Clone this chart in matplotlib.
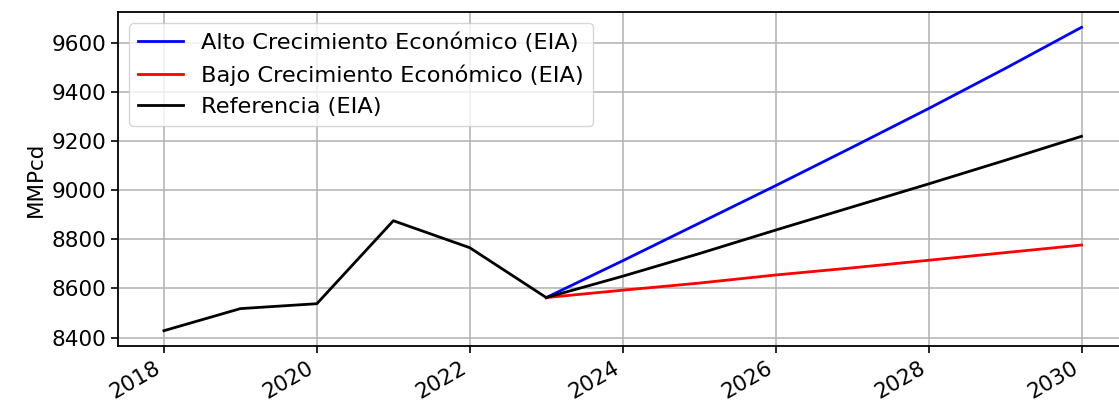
import matplotlib
matplotlib.use("Agg")
import matplotlib.pyplot as plt

# Historical production (MMPcd)
hist_years = [2018, 2019, 2020, 2021, 2022, 2023]
hist_values = [8428, 8518, 8538, 8876, 8766, 8563]

# EIA projections starting from the last historical year
proj_years = [2023, 2024, 2025, 2026, 2027, 2028, 2029, 2030]
alto = [8563, 8713, 8866, 9019, 9175, 9333, 9496, 9664]
bajo = [8563, 8593, 8622, 8655, 8684, 8715, 8746, 8777]
referencia = [8563, 8650, 8742, 8838, 8932, 9026, 9122, 9220]

plt.rcParams["font.size"] = 15.5
plt.rcParams["axes.linewidth"] = 1.3
plt.rcParams["xtick.major.width"] = 1.2
plt.rcParams["ytick.major.width"] = 1.2
plt.rcParams["xtick.major.size"] = 5
plt.rcParams["ytick.major.size"] = 5

fig = plt.figure(figsize=(11.19, 4.05), dpi=100)
ax = fig.add_axes([0.1055, 0.146, 0.902, 0.824])

ax.plot(proj_years, alto, color="blue", lw=2.0, label="Alto Crecimiento Económico (EIA)")
ax.plot(proj_years, bajo, color="red", lw=2.0, label="Bajo Crecimiento Económico (EIA)")
ax.plot(proj_years, referencia, color="black", lw=2.0, label="Referencia (EIA)")
ax.plot(hist_years, hist_values, color="black", lw=2.0)

ax.set_xticks([2018, 2020, 2022, 2024, 2026, 2028, 2030])
ax.set_yticks([8400, 8600, 8800, 9000, 9200, 9400, 9600])
ax.set_ylabel("MMPcd")
ax.grid(True, color="#b0b0b0", lw=1.1)
for lbl in ax.get_xticklabels():
    lbl.set_rotation(30)
    lbl.set_ha("right")

ax.legend(loc="upper left", fontsize=16.2)

fig.savefig("out.png", dpi=100)
